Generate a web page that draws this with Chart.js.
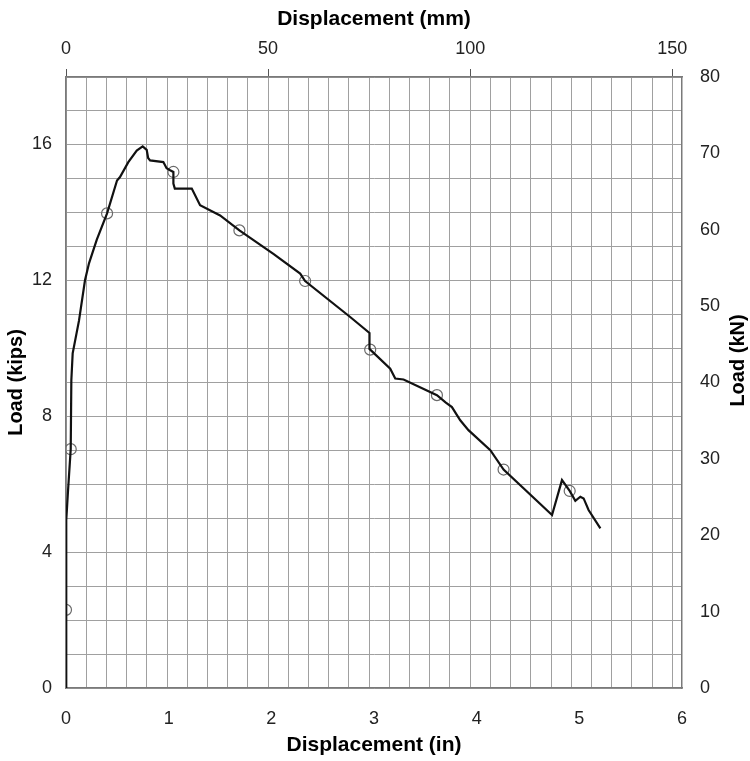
<!DOCTYPE html>
<html>
<head>
<meta charset="utf-8">
<script src="https://cdn.jsdelivr.net/npm/chart.js@4.4.1/dist/chart.umd.min.js"></script>
<style>
  html, body { margin: 0; padding: 0; background: #ffffff; }
  #wrap { width: 750px; height: 761px; }
</style>
</head>
<body>
<div id="wrap"><canvas id="c" width="750" height="761"></canvas></div>
<script>
// Load–displacement curve (displacement in inches, load in kips)
const dispIn = [0, 0.002, 0.0, 0.003, 0.005, 0.02, 0.046, 0.052, 0.065, 0.127, 0.185, 0.224, 0.30, 0.40, 0.497,
  0.526, 0.607, 0.689, 0.747, 0.786, 0.80, 0.819, 0.948, 0.98, 1.014, 1.046, 1.046, 1.06, 1.225, 1.306,
  1.501, 1.689, 2.02, 2.281, 2.329, 2.768, 2.956, 2.956, 2.963, 3.158, 3.207, 3.288, 3.613, 3.70, 3.759,
  3.840, 3.92, 4.133, 4.262, 4.734, 4.831, 4.906, 4.961, 5.01, 5.042, 5.09, 5.205];
const loadKips = [0, 1.0, 2.3, 3.5, 4.94, 5.82, 7.03, 9.06, 9.85, 10.82, 12.0, 12.5, 13.2, 13.97, 14.94,
  15.04, 15.48, 15.82, 15.94, 15.84, 15.6, 15.53, 15.48, 15.3, 15.24, 15.19, 14.85, 14.70, 14.70, 14.21,
  13.91, 13.47, 12.78, 12.20, 11.98, 10.92, 10.45, 9.98, 9.96, 9.40, 9.11, 9.08, 8.62, 8.40, 8.27,
  7.88, 7.59, 7.0, 6.43, 5.09, 6.12, 5.80, 5.51, 5.63, 5.58, 5.24, 4.70];

// Circle markers along the curve
const markerIn = [0.0, 0.046, 0.40, 1.046, 1.689, 2.329, 2.963, 3.613, 4.262, 4.906];
const markerKips = [2.3, 7.03, 13.97, 15.19, 13.47, 11.98, 9.96, 8.62, 6.43, 5.80];

// Axis ranges / ticks
const inMax = 6;                 // bottom axis (in)
const inTickLabels = [0, 1, 2, 3, 4, 5, 6];
const mmMax = 152.4;             // top axis (mm) = 6 in
const mmStep = 5;
const mmLastTick = 150;
const mmLabelEvery = 50;
const kNMax = 80;                // right axis (kN)
const kNStep = 10;
const kipsMax = 80 / 4.448222;   // left axis (kips) matched to 80 kN
const kipsLabelEvery = 4;

const FONT = "'Liberation Sans', Arial, sans-serif";
const GRID = '#a0a0a0';
const AXIS = '#7a7a7a';

const rightTitle = {
  id: 'rightTitle',
  afterDraw(chart) {
    const ctx = chart.ctx;
    const a = chart.chartArea;
    ctx.save();
    ctx.font = "bold 20px " + FONT;
    ctx.fillStyle = '#000';
    ctx.textAlign = 'center';
    ctx.textBaseline = 'middle';
    ctx.translate(chart.width - 12, (a.top + a.bottom) / 2 - 22);
    ctx.rotate(-Math.PI / 2);
    ctx.fillText('Load (kN)', 0, 0);
    ctx.restore();
  }
};

new Chart(document.getElementById('c'), {
  type: 'scatter',
  data: {
    datasets: [
      {
        label: 'Load',
        data: dispIn.map((x, i) => ({ x: x, y: loadKips[i] })),
        showLine: true,
        borderColor: '#111',
        borderWidth: 2.2,
        pointRadius: 0,
        tension: 0,
        xAxisID: 'x',
        yAxisID: 'y'
      },
      {
        label: 'Markers',
        data: markerIn.map((x, i) => ({ x: x, y: markerKips[i] })),
        showLine: false,
        pointStyle: 'circle',
        pointRadius: 5.5,
        borderColor: '#6a6a6a',
        borderWidth: 1.2,
        backgroundColor: 'rgba(0,0,0,0)',
        xAxisID: 'x',
        yAxisID: 'y'
      }
    ]
  },
  options: {
    responsive: false,
    animation: false,
    layout: { padding: 0 },
    plugins: { legend: { display: false }, tooltip: { enabled: false } },
    scales: {
      x: {
        type: 'linear', position: 'bottom', min: 0, max: inMax,
        afterBuildTicks: s => { s.ticks = inTickLabels.map(v => ({ value: v })); },
        afterFit: s => { s.height = 73; },
        grid: { display: false },
        border: { display: true, color: AXIS, width: 1.5 },
        ticks: { autoSkip: false, maxRotation: 0, padding: 12, color: '#222', font: { family: FONT, size: 18 } },
        title: { display: true, text: 'Displacement (in)', color: '#000', font: { family: FONT, size: 21, weight: 'bold' }, padding: { top: 0, bottom: 3 } }
      },
      x2: {
        type: 'linear', position: 'top', min: 0, max: mmMax,
        afterBuildTicks: s => {
          const t = [];
          for (let v = 0; v <= mmLastTick; v += mmStep) t.push({ value: v });
          s.ticks = t;
        },
        afterFit: s => { s.height = 77; },
        grid: {
          display: true, drawOnChartArea: true, drawTicks: true, tickLength: 8,
          color: GRID, lineWidth: 1,
          tickColor: c => (c.tick && Math.abs(c.tick.value % mmLabelEvery) < 1e-6) ? '#555' : 'rgba(0,0,0,0)'
        },
        border: { display: true, color: AXIS, width: 1.5 },
        ticks: {
          autoSkip: false, maxRotation: 0, padding: 9, color: '#222',
          font: { family: FONT, size: 18 },
          callback: v => (Math.abs(v % mmLabelEvery) < 1e-6 ? String(v) : '')
        },
        title: { display: true, text: 'Displacement (mm)', color: '#000', font: { family: FONT, size: 21, weight: 'bold' }, padding: { top: 7, bottom: 0 } }
      },
      y: {
        type: 'linear', position: 'left', min: 0, max: kipsMax,
        afterFit: s => { s.width = 66; },
        grid: { display: true, drawTicks: false, color: GRID, lineWidth: 1 },
        border: { display: true, color: AXIS, width: 1.5 },
        ticks: {
          stepSize: 1, autoSkip: false, padding: 14, color: '#222',
          font: { family: FONT, size: 18 },
          callback: v => (Math.abs(v % kipsLabelEvery) < 1e-6 ? String(v) : '')
        },
        title: { display: true, text: 'Load (kips)', color: '#000', font: { family: FONT, size: 20, weight: 'bold' }, padding: { top: 4, bottom: 0 } }
      },
      y2: {
        type: 'linear', position: 'right', min: 0, max: kNMax,
        afterFit: s => { s.width = 68; },
        grid: { display: false, drawOnChartArea: false },
        border: { display: true, color: AXIS, width: 1.5 },
        ticks: { stepSize: kNStep, autoSkip: false, padding: 10, color: '#222', font: { family: FONT, size: 18 } },
        title: { display: false }
      }
    }
  },
  plugins: [rightTitle]
});
</script>
</body>
</html>
